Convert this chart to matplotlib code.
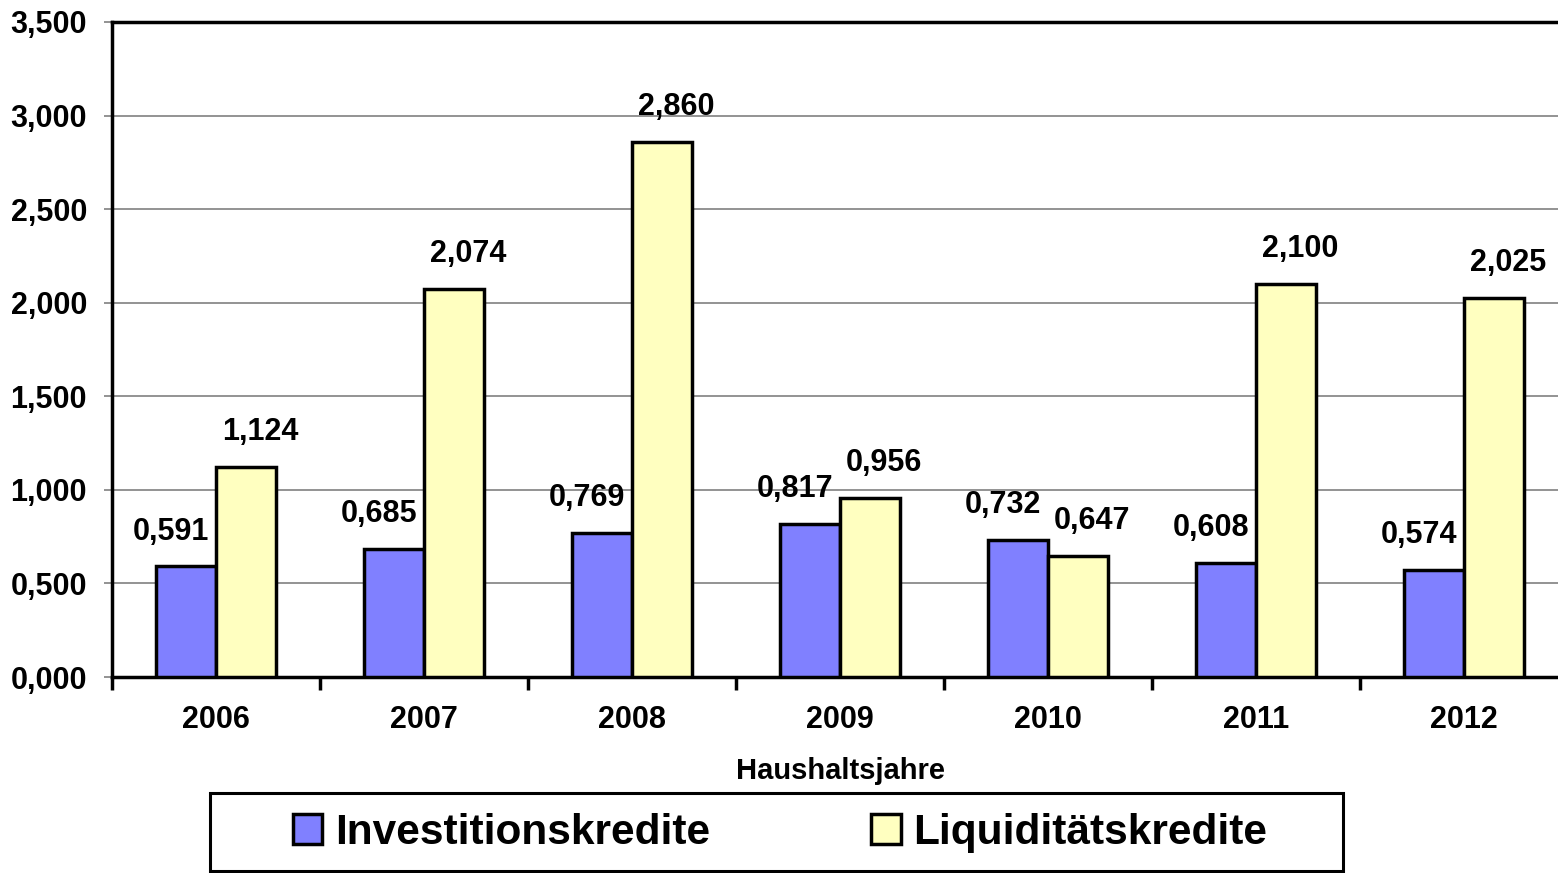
import numpy as np
import matplotlib
matplotlib.use("Agg")
import matplotlib.pyplot as plt
from matplotlib.patches import Rectangle

plt.rcParams['font.family'] = ['Liberation Sans', 'DejaVu Sans']
plt.rcParams['font.weight'] = 'bold'

years = ['2006', '2007', '2008', '2009', '2010', '2011', '2012']
investitionskredite = [0.591, 0.685, 0.769, 0.817, 0.732, 0.608, 0.574]
liquiditaetskredite = [1.124, 2.074, 2.860, 0.956, 0.647, 2.100, 2.025]
y_ticks = [0.0, 0.5, 1.0, 1.5, 2.0, 2.5, 3.0, 3.5]


def de_fmt(v):
    return f"{v:.3f}".replace('.', ',')


W, H = 1558, 873
fig = plt.figure(figsize=(W / 100, H / 100), dpi=100)
ax = fig.add_axes([112 / W, 1 - 677 / H, 1456 / W, 655 / H])

x = np.arange(len(years))
w = 60 / 208
inv_color = '#8080FF'
liq_color = '#FFFFC0'

b1 = ax.bar(x - w / 2, investitionskredite, w, color=inv_color,
            edgecolor='black', linewidth=2.5, zorder=3, label='Investitionskredite')
b2 = ax.bar(x + w / 2, liquiditaetskredite, w, color=liq_color,
            edgecolor='black', linewidth=2.5, zorder=3, label='Liquiditätskredite')

# value labels, nudged outwards like in the original chart
for bars, dx in ((b1, -11), (b2, 10)):
    for rect in bars:
        v = rect.get_height()
        ax.annotate(de_fmt(v), (rect.get_x() + rect.get_width() / 2, v),
                    xytext=(dx, 25), textcoords='offset points',
                    ha='center', va='center', fontsize=22, fontweight='bold', zorder=4)

ax.set_xlim(-0.5, len(years) - 0.5)
ax.set_ylim(0, 3.5)
ax.set_yticks(y_ticks)
ax.set_yticklabels([de_fmt(v) for v in y_ticks], fontsize=22, fontweight='bold')
ax.yaxis.grid(True, color='#808080', linewidth=1.2, zorder=0)
ax.tick_params(axis='y', length=6, width=1.2, color='#808080', pad=12)

ax.set_xticks(x)
ax.set_xticklabels(years, fontsize=22, fontweight='bold')
ax.tick_params(axis='x', which='major', length=0, pad=20)
ax.set_xticks(np.arange(len(years) + 1) - 0.5, minor=True)
ax.tick_params(axis='x', which='minor', length=9, width=2.5, color='black', direction='out')

ax.set_xlabel('Haushaltsjahre', fontsize=21, fontweight='bold', labelpad=16)

for side in ('left', 'bottom', 'top'):
    ax.spines[side].set_linewidth(2.5)
ax.spines['right'].set_visible(False)

fig.legend(handles=[b1, b2], loc='center', bbox_to_anchor=(780 / W, 1 - 833 / H),
           ncol=2, frameon=False, prop={'size': 30.5, 'weight': 'bold'},
           handlelength=0.7, handleheight=0.7, handletextpad=0.3, columnspacing=3.8)
fig.patches.append(Rectangle((210 / W, 1 - 871 / H), 1133 / W, 78 / H,
                             transform=fig.transFigure, fill=False,
                             edgecolor='black', linewidth=2.2))

fig.savefig('out.png', dpi=100)
